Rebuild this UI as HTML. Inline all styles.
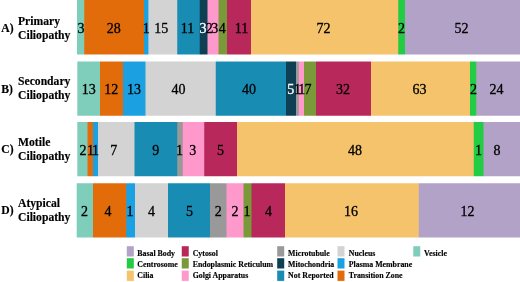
<!DOCTYPE html>
<html><head><meta charset="utf-8"><title>Ciliopathy localisation chart</title>
<style>
html,body{margin:0;padding:0;background:#fff;}
body{width:520px;height:282px;position:relative;overflow:hidden;font-family:"Liberation Serif",serif;color:#000;}
.s{position:absolute;}
.n{position:absolute;font-size:14px;line-height:16px;white-space:nowrap;transform:translateX(-50%);-webkit-text-stroke:0.3px currentColor;}
.w{color:#fff;}
.l{position:absolute;font-weight:bold;font-size:11.65px;line-height:14px;white-space:nowrap;-webkit-text-stroke:0.15px currentColor;}
.k{position:absolute;width:7px;height:10.4px;}
.t{position:absolute;font-weight:bold;font-size:7.85px;line-height:10px;white-space:nowrap;-webkit-text-stroke:0.15px currentColor;}
</style></head><body>

<svg width="520" height="282" viewBox="0 0 520 282" style="position:absolute;left:0;top:0">
<rect x="77" y="0" width="444" height="58" fill="#7FCDBB"/>
<rect x="84.25" y="0" width="436.75" height="58" fill="#E36C0A"/>
<rect x="144" y="0" width="377" height="58" fill="#1BA1E2"/>
<rect x="148.4" y="0" width="372.6" height="58" fill="#D3D3D3"/>
<rect x="177.25" y="0" width="343.75" height="58" fill="#198CB4"/>
<rect x="199.75" y="0" width="321.25" height="58" fill="#0E3F52"/>
<rect x="207.5" y="0" width="313.5" height="58" fill="#FF99CC"/>
<rect x="218.5" y="0" width="302.5" height="58" fill="#7A9A3A"/>
<rect x="227" y="0" width="294" height="58" fill="#B8285A"/>
<rect x="251" y="0" width="270" height="58" fill="#F5C36B"/>
<rect x="398.25" y="0" width="122.75" height="58" fill="#22CC44"/>
<rect x="405" y="0" width="116" height="58" fill="#B3A2C7"/>
<rect x="77.3" y="58" width="443.7" height="61" fill="#7FCDBB"/>
<rect x="100" y="58" width="421" height="61" fill="#E36C0A"/>
<rect x="123" y="58" width="398" height="61" fill="#1BA1E2"/>
<rect x="145.5" y="58" width="375.5" height="61" fill="#D3D3D3"/>
<rect x="215.75" y="58" width="305.25" height="61" fill="#198CB4"/>
<rect x="286" y="58" width="235" height="61" fill="#0E3F52"/>
<rect x="296" y="58" width="225" height="61" fill="#999999"/>
<rect x="298.75" y="58" width="222.25" height="61" fill="#FF99CC"/>
<rect x="304" y="58" width="217" height="61" fill="#7A9A3A"/>
<rect x="316" y="58" width="205" height="61" fill="#B8285A"/>
<rect x="371" y="58" width="150" height="61" fill="#F5C36B"/>
<rect x="470" y="58" width="51" height="61" fill="#22CC44"/>
<rect x="476.25" y="58" width="44.75" height="61" fill="#B3A2C7"/>
<rect x="77.3" y="119" width="443.7" height="61" fill="#7FCDBB"/>
<rect x="87.5" y="119" width="433.5" height="61" fill="#E36C0A"/>
<rect x="93" y="119" width="428" height="61" fill="#1BA1E2"/>
<rect x="98" y="119" width="423" height="61" fill="#D3D3D3"/>
<rect x="134.5" y="119" width="386.5" height="61" fill="#198CB4"/>
<rect x="177.25" y="119" width="343.75" height="61" fill="#999999"/>
<rect x="182.75" y="119" width="338.25" height="61" fill="#FF99CC"/>
<rect x="204.25" y="119" width="316.75" height="61" fill="#B8285A"/>
<rect x="237" y="119" width="284" height="61" fill="#F5C36B"/>
<rect x="473.75" y="119" width="47.25" height="61" fill="#22CC44"/>
<rect x="483.5" y="119" width="37.5" height="61" fill="#B3A2C7"/>
<rect x="76.7" y="180" width="444.3" height="60" fill="#7FCDBB"/>
<rect x="93" y="180" width="428" height="60" fill="#E36C0A"/>
<rect x="126.25" y="180" width="394.75" height="60" fill="#1BA1E2"/>
<rect x="135" y="180" width="386" height="60" fill="#D3D3D3"/>
<rect x="168" y="180" width="353" height="60" fill="#198CB4"/>
<rect x="210" y="180" width="311" height="60" fill="#999999"/>
<rect x="226.5" y="180" width="294.5" height="60" fill="#FF99CC"/>
<rect x="243.5" y="180" width="277.5" height="60" fill="#7A9A3A"/>
<rect x="251.5" y="180" width="269.5" height="60" fill="#B8285A"/>
<rect x="285" y="180" width="236" height="60" fill="#F5C36B"/>
<rect x="418.75" y="180" width="102.25" height="60" fill="#B3A2C7"/>
<rect x="0" y="54.5" width="520" height="7.0" fill="#fff"/>
<rect x="0" y="115.75" width="520" height="6.25" fill="#fff"/>
<rect x="0" y="176.25" width="520" height="7.0" fill="#fff"/>
<rect x="0" y="237.5" width="520" height="45.5" fill="#fff"/>
<rect x="126.8" y="246.2" width="7" height="10.3" fill="#B3A2C7"/>
<rect x="126.8" y="258.2" width="7" height="10.3" fill="#22CC44"/>
<rect x="126.8" y="270.6" width="7" height="10.3" fill="#F5C36B"/>
<rect x="181.75" y="246.2" width="7" height="10.3" fill="#B8285A"/>
<rect x="181.75" y="258.2" width="7" height="10.3" fill="#7A9A3A"/>
<rect x="181.75" y="270.6" width="7" height="10.3" fill="#FF99CC"/>
<rect x="277.2" y="246.2" width="7" height="10.3" fill="#999999"/>
<rect x="277.2" y="258.2" width="7" height="10.3" fill="#0E3F52"/>
<rect x="277.2" y="270.6" width="7" height="10.3" fill="#198CB4"/>
<rect x="337.5" y="246.2" width="7" height="10.3" fill="#D3D3D3"/>
<rect x="337.5" y="258.2" width="7" height="10.3" fill="#1BA1E2"/>
<rect x="337.5" y="270.6" width="7" height="10.3" fill="#E36C0A"/>
<rect x="413.25" y="246.2" width="7" height="10.3" fill="#7FCDBB"/>
</svg>
<div class="n" style="left:81px;top:20.75px">3</div>
<div class="n" style="left:113.75px;top:20.75px">28</div>
<div class="n" style="left:146.25px;top:20.75px">1</div>
<div class="n" style="left:161.25px;top:20.75px">15</div>
<div class="n" style="left:187.5px;top:20.75px">11</div>
<div class="n w" style="left:202.9px;top:20.75px">3</div>
<div class="n" style="left:209.3px;top:20.75px">2</div>
<div class="n" style="left:214.7px;top:20.75px">3</div>
<div class="n" style="left:222.25px;top:20.75px">4</div>
<div class="n" style="left:241.5px;top:20.75px">11</div>
<div class="n" style="left:323.5px;top:20.75px">72</div>
<div class="n" style="left:401.5px;top:20.75px">2</div>
<div class="n" style="left:461.6px;top:20.75px">52</div>
<div class="n" style="left:88.75px;top:82.12px">13</div>
<div class="n" style="left:111.25px;top:82.12px">12</div>
<div class="n" style="left:134px;top:82.12px">13</div>
<div class="n" style="left:178.4px;top:82.12px">40</div>
<div class="n" style="left:249px;top:82.12px">40</div>
<div class="n w" style="left:290.75px;top:82.12px">5</div>
<div class="n" style="left:297.5px;top:82.12px">1</div>
<div class="n" style="left:301.75px;top:82.12px">1</div>
<div class="n" style="left:308px;top:82.12px">7</div>
<div class="n" style="left:343px;top:82.12px">32</div>
<div class="n" style="left:419.5px;top:82.12px">63</div>
<div class="n" style="left:473.5px;top:82.12px">2</div>
<div class="n" style="left:496.5px;top:82.12px">24</div>
<div class="n" style="left:83px;top:142.62px">2</div>
<div class="n" style="left:90.5px;top:142.62px">1</div>
<div class="n" style="left:95.5px;top:142.62px">1</div>
<div class="n" style="left:113.75px;top:142.62px">7</div>
<div class="n" style="left:155.75px;top:142.62px">9</div>
<div class="n" style="left:179.4px;top:142.62px">1</div>
<div class="n" style="left:192.75px;top:142.62px">3</div>
<div class="n" style="left:220.5px;top:142.62px">5</div>
<div class="n" style="left:355px;top:142.62px">48</div>
<div class="n" style="left:478.4px;top:142.62px">1</div>
<div class="n" style="left:497px;top:142.62px">8</div>
<div class="n" style="left:84.5px;top:203.88px">2</div>
<div class="n" style="left:108px;top:203.88px">4</div>
<div class="n" style="left:130px;top:203.88px">1</div>
<div class="n" style="left:151.5px;top:203.88px">4</div>
<div class="n" style="left:189.4px;top:203.88px">5</div>
<div class="n" style="left:218.25px;top:203.88px">2</div>
<div class="n" style="left:235px;top:203.88px">2</div>
<div class="n" style="left:247px;top:203.88px">1</div>
<div class="n" style="left:268.6px;top:203.88px">4</div>
<div class="n" style="left:351px;top:203.88px">16</div>
<div class="n" style="left:467.5px;top:203.88px">12</div>
<div class="l" style="left:1.3px;top:21.8px">A)</div>
<div class="l" style="left:18px;top:14.7px">Primary</div>
<div class="l" style="left:18px;top:28.7px">Ciliopathy</div>
<div class="l" style="left:1.3px;top:82.5px">B)</div>
<div class="l" style="left:18px;top:75.4px">Secondary</div>
<div class="l" style="left:18px;top:89.4px">Ciliopathy</div>
<div class="l" style="left:1.3px;top:143.2px">C)</div>
<div class="l" style="left:18px;top:136.1px">Motile</div>
<div class="l" style="left:18px;top:150.1px">Ciliopathy</div>
<div class="l" style="left:1.3px;top:203.9px">D)</div>
<div class="l" style="left:18px;top:196.8px">Atypical</div>
<div class="l" style="left:18px;top:210.8px">Ciliopathy</div>
<div class="t" style="left:137.3px;top:248.9px">Basal Body</div>
<div class="t" style="left:137.3px;top:259.9px">Centrosome</div>
<div class="t" style="left:137.3px;top:271.2px">Cilia</div>
<div class="t" style="left:192.7px;top:248.9px">Cytosol</div>
<div class="t" style="left:192.7px;top:259.9px">Endoplasmic Reticulum</div>
<div class="t" style="left:192.7px;top:271.2px">Golgi Apparatus</div>
<div class="t" style="left:288.1px;top:248.9px">Microtubule</div>
<div class="t" style="left:288.1px;top:259.9px">Mitochondria</div>
<div class="t" style="left:288.1px;top:271.2px">Not Reported</div>
<div class="t" style="left:348.8px;top:248.9px">Nucleus</div>
<div class="t" style="left:348.8px;top:259.9px">Plasma Membrane</div>
<div class="t" style="left:348.8px;top:271.2px">Transition Zone</div>
<div class="t" style="left:424.1px;top:248.9px">Vesicle</div>
</body></html>
